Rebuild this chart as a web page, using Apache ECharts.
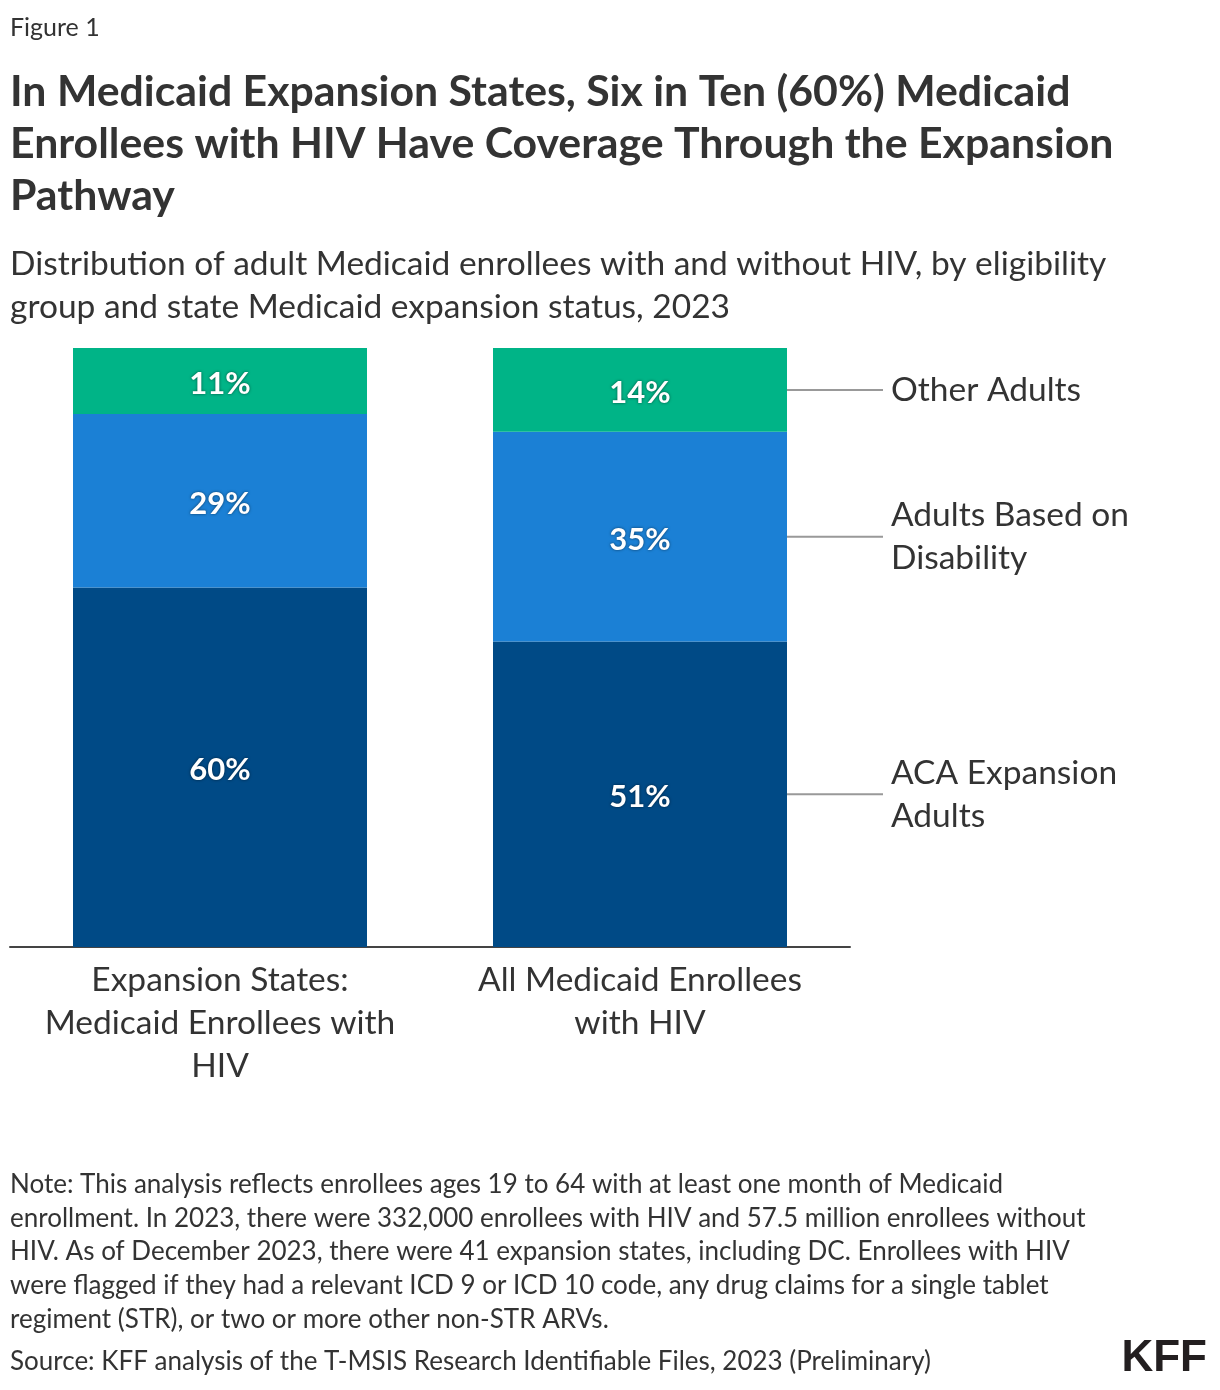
<!DOCTYPE html>
<html>
<head>
<meta charset="utf-8">
<script src="https://cdn.jsdelivr.net/npm/echarts@6/dist/echarts.min.js"></script>
<style>
  html, body { margin: 0; padding: 0; background: #fff; }
  #main { width: 1220px; height: 1390px; }
</style>
</head>
<body>
<div id="main"></div>
<script>
// categories and values (percent)
var categories = ['Expansion States:\nMedicaid Enrollees with\nHIV', 'All Medicaid Enrollees\nwith HIV'];
var seriesNames = ['ACA Expansion Adults', 'Adults Based on Disability', 'Other Adults'];
var sideLabels = ['ACA Expansion\nAdults', 'Adults Based on\nDisability', 'Other Adults'];
var acaValues = [60, 51];
var disabilityValues = [29, 35];
var otherValues = [11, 14];
var colors = ['#004a86', '#1b80d5', '#00b487'];

var FONT = 'Lato, "Noto Sans", sans-serif';
var chart = echarts.init(document.getElementById('main'));

function barSeries(name, data, color) {
  return {
    name: name,
    type: 'bar',
    stack: 'total',
    barWidth: '70%',
    data: data,
    itemStyle: { color: color },
    label: {
      show: true,
      position: 'inside',
      offset: [0, 3],
      formatter: '{c}%',
      color: '#fff',
      fontFamily: FONT,
      fontWeight: 'bold',
      fontSize: 31,
      textShadowColor: 'rgba(0,0,0,0.55)',
      textShadowBlur: 3
    },
    emphasis: { disabled: true }
  };
}

var option = {
  animation: false,
  backgroundColor: '#fff',
  title: [
    { text: 'Figure 1', left: 10, top: 15, padding: 0, textStyle: { fontFamily: FONT, fontWeight: 'normal', fontSize: 25, color: '#333' } },
    {
      text: 'In Medicaid Expansion States, Six in Ten (60%) Medicaid\nEnrollees with HIV Have Coverage Through the Expansion\nPathway',
      left: 10, top: 66, padding: 0,
      textStyle: { fontFamily: FONT, fontWeight: 'bold', fontSize: 42.8, lineHeight: 52, color: '#333' }
    },
    {
      text: 'Distribution of adult Medicaid enrollees with and without HIV, by eligibility\ngroup and state Medicaid expansion status, 2023',
      left: 10, top: 243, padding: 0,
      textStyle: { fontFamily: FONT, fontWeight: 'normal', fontSize: 33.5, lineHeight: 43, color: '#333' }
    },
    {
      text: 'Note: This analysis reflects enrollees ages 19 to 64 with at least one month of Medicaid\nenrollment. In 2023, there were 332,000 enrollees with HIV and 57.5 million enrollees without\nHIV. As of December 2023, there were 41 expansion states, including DC. Enrollees with HIV\nwere flagged if they had a relevant ICD 9 or ICD 10 code, any drug claims for a single tablet\nregiment (STR), or two or more other non-STR ARVs.',
      left: 10, top: 1168, padding: 0,
      textStyle: { fontFamily: FONT, fontWeight: 'normal', fontSize: 26, lineHeight: 33.6, color: '#333' }
    },
    {
      text: 'Source: KFF analysis of the T-MSIS Research Identifiable Files, 2023 (Preliminary)',
      left: 10, top: 1349, padding: 0,
      textStyle: { fontFamily: FONT, fontWeight: 'normal', fontSize: 26, color: '#333' }
    },
    {
      text: 'KFF', right: 13, top: 1337, padding: 0,
      textStyle: { fontFamily: '"Liberation Sans", Arial, sans-serif', fontWeight: 900, fontSize: 44, color: '#231f20' }
    }
  ],
  grid: { left: 10, right: 370, top: 348, bottom: 443, containLabel: false },
  xAxis: {
    type: 'category',
    data: categories,
    axisLine: { lineStyle: { color: '#444', width: 2 } },
    axisTick: { show: false },
    axisLabel: {
      fontFamily: FONT, fontSize: 33.5, lineHeight: 43, color: '#333', margin: 12, interval: 0
    }
  },
  yAxis: { type: 'value', min: 0, max: 100, show: false, splitLine: { show: false } },
  series: [
    barSeries(seriesNames[0], acaValues, colors[0]),
    barSeries(seriesNames[1], disabilityValues, colors[1]),
    barSeries(seriesNames[2], otherValues, colors[2])
  ]
};
chart.setOption(option);

// leader lines and side labels placed from the second bar's segments
var lastIdx = categories.length - 1;
var lastVals = [acaValues[lastIdx], disabilityValues[lastIdx], otherValues[lastIdx]];
var p0 = chart.convertToPixel({ gridIndex: 0 }, [0, 0]);
var p1 = chart.convertToPixel({ gridIndex: 0 }, [1, 0]);
var band = p1[0] - p0[0];
var graphics = [];
var cum = 0;
for (var i = 0; i < lastVals.length; i++) {
  var mid = cum + lastVals[i] / 2;
  cum += lastVals[i];
  var pt = chart.convertToPixel({ gridIndex: 0 }, [lastIdx, mid]);
  var x0 = pt[0] + band * 0.35;
  graphics.push({
    type: 'line',
    shape: { x1: x0, y1: pt[1], x2: x0 + 96, y2: pt[1] },
    style: { stroke: '#999', lineWidth: 2 }
  });
  graphics.push({
    type: 'text',
    x: x0 + 104,
    y: pt[1],
    style: {
      text: sideLabels[i],
      fontFamily: FONT, fontSize: 33.5, lineHeight: 43, fill: '#333',
      verticalAlign: 'middle', align: 'left'
    }
  });
}
chart.setOption({ graphic: graphics });
</script>
</body>
</html>
